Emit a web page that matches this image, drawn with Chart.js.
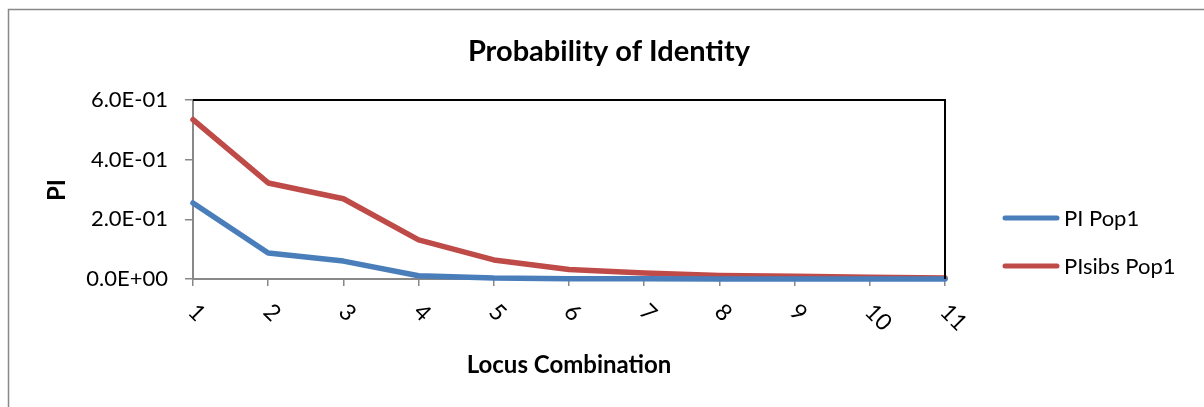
<!DOCTYPE html>
<html>
<head>
<meta charset="utf-8">
<title>Probability of Identity</title>
<script src="https://cdn.jsdelivr.net/npm/chart.js@4.4.1/dist/chart.umd.min.js"></script>
<style>
    html, body { margin: 0; padding: 0; background: #fff; }
    #wrap { position: relative; width: 1204px; height: 407px; }
</style>
</head>
<body>
<div id="wrap"><canvas id="piChart" width="1204" height="407"></canvas></div>
<script>
const locusLabels = ['1', '2', '3', '4', '5', '6', '7', '8', '9', '10', '11'];
const piPop1 = [0.255, 0.087, 0.060, 0.011, 0.003, 0.001, 0.0006, 0.0003, 0.0002, 0.0001, 0.00005];
const piSibsPop1 = [0.534, 0.322, 0.269, 0.131, 0.064, 0.032, 0.020, 0.012, 0.009, 0.006, 0.003];
const yTicks = [0, 0.2, 0.4, 0.6];

const FONT = 'Lato, "Open Sans", sans-serif';

// Excel style scientific label, e.g. 6.0E-01
function sci(v) {
    if (v === 0) return '0.0E+00';
    const [m, e] = v.toExponential(1).split('e');
    const n = parseInt(e, 10);
    return m + 'E' + (n < 0 ? '-' : '+') + String(Math.abs(n)).padStart(2, '0');
}

// Frame, titles, rotated x labels and legend
const decorations = {
    id: 'decorations',
    afterDraw(chart) {
        const ctx = chart.ctx;
        const area = chart.chartArea;
        const xScale = chart.scales.x;
        ctx.save();

        // outer chart border
        ctx.strokeStyle = '#888888';
        ctx.lineWidth = 1.5;
        ctx.beginPath();
        ctx.moveTo(8.5, 407);
        ctx.lineTo(8.5, 9.5);
        ctx.lineTo(1204, 9.5);
        ctx.stroke();

        // top and right edge of plot area
        ctx.strokeStyle = '#000';
        ctx.lineWidth = 2;
        ctx.beginPath();
        ctx.moveTo(area.left, area.top);
        ctx.lineTo(area.right, area.top);
        ctx.lineTo(area.right, area.bottom);
        ctx.stroke();

        ctx.fillStyle = '#000';

        // chart title
        ctx.font = 'bold 29px ' + FONT;
        ctx.textAlign = 'center';
        ctx.textBaseline = 'middle';
        ctx.fillText('Probability of Identity', 609, 52);

        // axis titles
        ctx.font = 'bold 24px ' + FONT;
        ctx.fillText('Locus Combination', 569, 365);
        ctx.save();
        ctx.translate(57, 190);
        ctx.rotate(-Math.PI / 2);
        ctx.fillText('PI', 0, 0);
        ctx.restore();

        // x tick labels rotated 45 degrees clockwise
        ctx.font = '23px ' + FONT;
        ctx.textAlign = 'left';
        locusLabels.forEach((lab, i) => {
            const x = xScale.getPixelForValue(i);
            ctx.save();
            ctx.translate(x - 1, 308);
            ctx.rotate(Math.PI / 4);
            ctx.fillText(lab, 0, 0);
            ctx.restore();
        });

        // legend
        const legendY = [218, 266];
        ctx.font = '22px ' + FONT;
        ctx.textBaseline = 'middle';
        chart.data.datasets.forEach((ds, i) => {
            ctx.strokeStyle = ds.borderColor;
            ctx.lineWidth = 5;
            ctx.lineCap = 'round';
            ctx.beginPath();
            ctx.moveTo(1005, legendY[i]);
            ctx.lineTo(1057, legendY[i]);
            ctx.stroke();
            ctx.fillText(ds.label, 1064, legendY[i] + 1);
        });

        ctx.restore();
    }
};

const ctx = document.getElementById('piChart').getContext('2d');
const piChart = new Chart(ctx, {
    type: 'line',
    data: {
        labels: locusLabels,
        datasets: [
            {
                label: 'PI Pop1',
                data: piPop1,
                borderColor: '#4A7EBB',
                borderWidth: 5.5,
                pointRadius: 0,
                tension: 0,
                borderCapStyle: 'round',
                borderJoinStyle: 'round'
            },
            {
                label: 'PIsibs Pop1',
                data: piSibsPop1,
                borderColor: '#BE4B48',
                borderWidth: 5.5,
                pointRadius: 0,
                tension: 0,
                borderCapStyle: 'round',
                borderJoinStyle: 'round'
            }
        ]
    },
    options: {
        responsive: false,
        animation: false,
        devicePixelRatio: 1,
        clip: false,
        layout: { padding: { left: 0, top: 100, right: 259, bottom: 0 } },
        plugins: {
            legend: { display: false },
            title: { display: false },
            tooltip: { enabled: false }
        },
        scales: {
            x: {
                offset: false,
                grid: { drawOnChartArea: false, drawTicks: true, tickLength: 7, color: '#888888', lineWidth: 1.5 },
                border: { color: '#888888', width: 2 },
                ticks: { display: false },
                afterFit: (s) => { s.height = 128; }
            },
            y: {
                min: 0,
                max: 0.6,
                afterBuildTicks: (s) => { s.ticks = yTicks.map(v => ({ value: v })); },
                grid: { drawOnChartArea: false, drawTicks: true, tickLength: 8, color: '#888888', lineWidth: 1.5 },
                border: { color: '#888888', width: 2 },
                ticks: {
                    padding: 17,
                    color: '#000',
                    font: { family: FONT, size: 22 },
                    callback: (v) => sci(v)
                },
                afterFit: (s) => { s.width = 193; }
            }
        }
    },
    plugins: [decorations]
});
</script>
</body>
</html>
